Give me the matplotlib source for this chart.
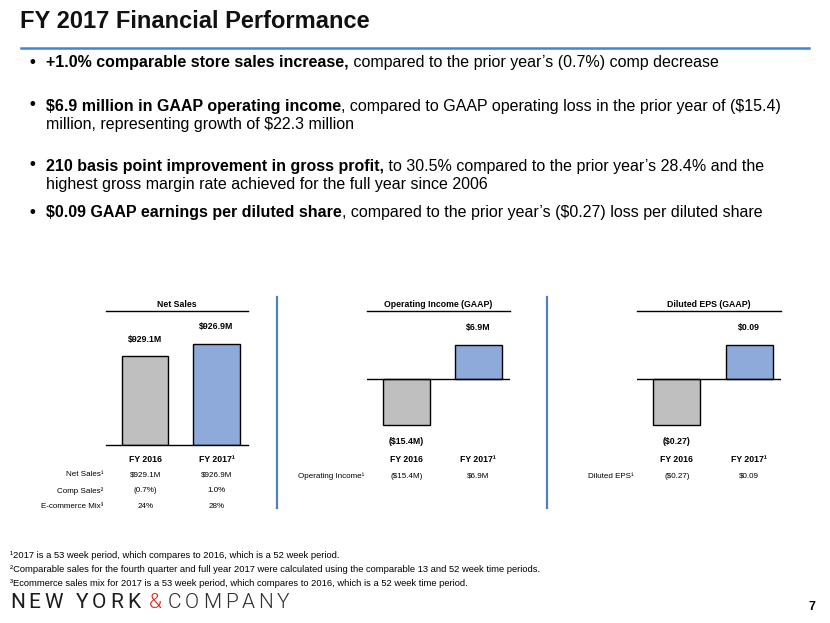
import matplotlib
matplotlib.use("Agg")
import matplotlib.pyplot as plt
from matplotlib.transforms import blended_transform_factory

plt.rcParams["font.family"] = ["Liberation Sans", "DejaVu Sans"]
plt.rcParams["text.parse_math"] = False

W, H = 830, 623

# --- data -----------------------------------------------------------------
years = ["FY 2016", "FY 2017¹"]

# bar heights as drawn on the slide (relative, not to scale with the labels)
net_sales_bar = [0.88, 1.0]
op_income_bar = [-1.35, 1.0]
eps_bar = [-1.35, 1.0]

net_sales_labels = ["$929.1M", "$926.9M"]
op_income_labels = ["($15.4M)", "$6.9M"]
eps_labels = ["($0.27)", "$0.09"]

net_sales_rows = ["Net Sales¹", "Comp Sales²", "E-commerce Mix³"]
net_sales_table = [["$929.1M", "$926.9M"], ["(0.7%)", "1.0%"], ["24%", "28%"]]
op_income_rows = ["Operating Income¹"]
op_income_table = [["($15.4M)", "$6.9M"]]
eps_rows = ["Diluted EPS¹"]
eps_table = [["($0.27)", "$0.09"]]

bullets = [
    [("+1.0% comparable store sales increase,", "bold"),
     (" compared to the prior year’s (0.7%) comp decrease", "normal")],
    [("$6.9 million in GAAP operating income", "bold"),
     (", compared to GAAP operating loss in the prior year of ($15.4)", "normal")],
    [("million, representing growth of $22.3 million", "normal")],
    [("210 basis point improvement in gross profit,", "bold"),
     (" to 30.5% compared to the prior year’s 28.4% and the", "normal")],
    [("highest gross margin rate achieved for the full year since 2006", "normal")],
    [("$0.09 GAAP earnings per diluted share", "bold"),
     (", compared to the prior year’s ($0.27) loss per diluted share", "normal")],
]
bullet_y = [63, 106, 124, 166, 184, 213]
bullet_dot = [True, True, False, True, False, True]

footnotes = [
    "¹2017 is a 53 week period, which compares to 2016, which is a 52 week period.",
    "²Comparable sales for the fourth quarter and full year 2017 were calculated using the comparable 13 and 52 week time periods.",
    "³Ecommerce sales mix for 2017 is a 53 week period, which compares to 2016, which is a 52 week time period.",
]

GRAY = "#bfbfbf"
BLUE = "#8eaadb"
LINE_BLUE = "#3f86d3"

fig = plt.figure(figsize=(W / 100, H / 100), dpi=100)
renderer = fig.canvas.get_renderer()


def fx(x):
    return x / W


def fy(y):
    return 1 - y / H


# title and rule
fig.text(fx(20), fy(22), "FY 2017 Financial Performance", fontsize=17, fontweight="bold",
         color="#111111", va="center")
fig.add_artist(plt.Line2D([fx(21), fx(809)], [fy(48), fy(48)], color=LINE_BLUE, lw=1.8))

# bullets with mixed bold / regular text
for parts, y, dot in zip(bullets, bullet_y, bullet_dot):
    if dot:
        fig.text(fx(32), fy(y - 1), "•", fontsize=12, fontweight="bold", ha="center", va="center")
    x = 46
    for txt, weight in parts:
        t = fig.text(fx(x), fy(y), txt, fontsize=11.5, fontweight=weight, va="center")
        x += t.get_window_extent(renderer).width


def panel(left, right, values, labels, title, rows, table, baseline_px, offset_px=17):
    top_px, bot_px = 311, 445
    ax = fig.add_axes([fx(left), fy(bot_px), (right - left) / W, (bot_px - top_px) / H])
    # scale so that one unit of bar height equals the 2017 bar on the slide
    unit = (baseline_px - 345) if baseline_px != 445 else 101
    ax.set_ylim(-(bot_px - baseline_px) / unit, (baseline_px - top_px) / unit)
    ax.set_xlim(-0.55, 1.44)
    ax.bar(range(2), values, width=0.65, color=[GRAY, BLUE], edgecolor="black", linewidth=1.0)
    for s in ["left", "right"]:
        ax.spines[s].set_visible(False)
    ax.spines["top"].set_linewidth(1.0)
    if baseline_px == bot_px:
        ax.spines["bottom"].set_linewidth(1.0)
    else:
        ax.spines["bottom"].set_visible(False)
        ax.axhline(0, color="black", lw=1.0)
    ax.set_xticks([])
    ax.set_yticks([])
    ax.patch.set_alpha(0)
    ax.set_title(title, fontsize=6.3, fontweight="bold", pad=3)
    for i, (v, lab) in enumerate(zip(values, labels)):
        off = offset_px if v >= 0 else -offset_px
        ax.annotate(lab, (i, v), xytext=(0, off * 0.72), textcoords="offset points",
                    ha="center", va="center", fontsize=6.3, fontweight="bold")
    tr = blended_transform_factory(ax.transData, fig.transFigure)
    for i, yr in enumerate(years):
        ax.text(i, fy(460), yr, transform=tr, ha="center", va="center",
                fontsize=6.3, fontweight="bold")
    row_y = [475, 491, 507] if len(rows) > 1 else [476]
    for r, (name, vals) in enumerate(zip(rows, table)):
        fig.text(fx(left - 3), fy(row_y[r]), name, ha="right", va="center", fontsize=5.8)
        for i, v in enumerate(vals):
            ax.text(i, fy(row_y[r]), v, transform=tr, ha="center", va="center", fontsize=5.8)
    return ax


panel(106, 248, net_sales_bar, net_sales_labels, "Net Sales", net_sales_rows, net_sales_table, 445)
panel(367, 510, op_income_bar, op_income_labels, "Operating Income (GAAP)", op_income_rows,
      op_income_table, 379)
panel(637, 781, eps_bar, eps_labels, "Diluted EPS (GAAP)", eps_rows, eps_table, 379)

# vertical separators
for x in [277, 547]:
    fig.add_artist(plt.Line2D([fx(x), fx(x)], [fy(297), fy(508)], color="#4f81bd", lw=1.6))

# footnotes
for y, note in zip([556, 570, 584], footnotes):
    fig.text(fx(10), fy(y), note, fontsize=6.75, va="center")


def tracked(text, x0, x1, y, size, color, weight="normal", family="Roboto"):
    """Draw text letter by letter, spread so that it spans x0..x1 pixels."""
    space = 0.28 * size * 100 / 72
    widths = []
    for ch in text:
        if ch == " ":
            widths.append(space)
        else:
            t = fig.text(0, 0, ch, fontsize=size, fontweight=weight, family=family)
            widths.append(t.get_window_extent(renderer).width)
            t.remove()
    gap = (x1 - x0 - sum(widths)) / max(len(text) - 1, 1)
    x = x0
    for ch, w in zip(text, widths):
        if ch != " ":
            fig.text(fx(x), fy(y), ch, fontsize=size, fontweight=weight, color=color,
                     family=family, va="center")
        x += w + gap


# logo and page number
tracked("NEW YORK", 10, 140, 602, 15, "#1f1c1d", weight=400)
tracked("&", 149, 162, 602, 15, "#e2231a", weight=300)
tracked("COMPANY", 168, 289, 602, 15, "#2f2f2f", weight=300)
fig.text(fx(808), fy(607), "7", fontsize=9, fontweight="bold", va="center")

fig.savefig("out.png", dpi=100)
